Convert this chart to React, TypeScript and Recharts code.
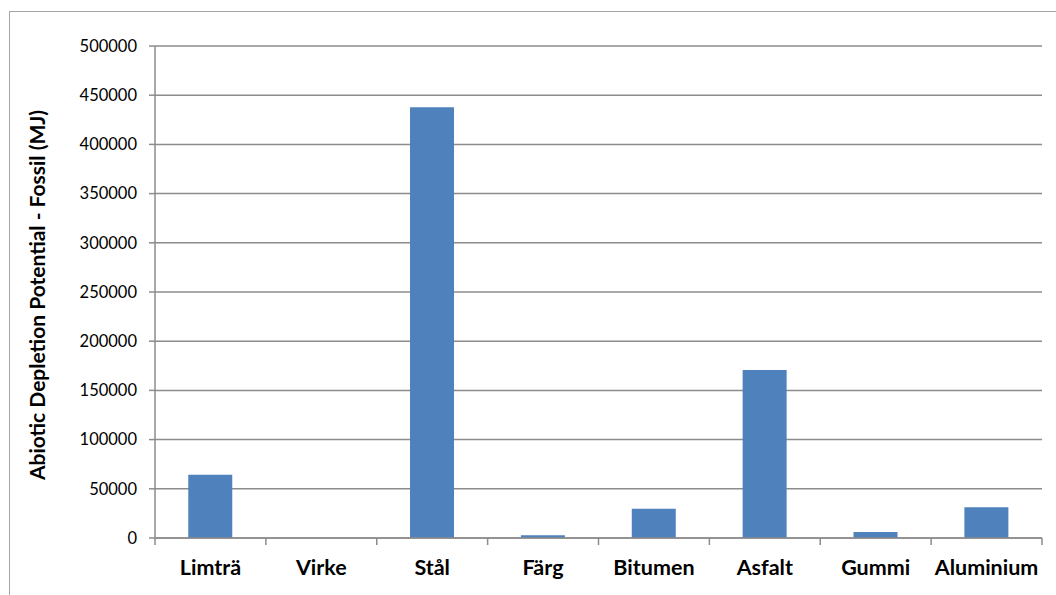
import { BarChart, Bar, XAxis, YAxis, CartesianGrid, Label } from "recharts";

const materials = ["Limträ", "Virke", "Stål", "Färg", "Bitumen", "Asfalt", "Gummi", "Aluminium"];
const fossilMJ = [64300, 0, 437700, 2700, 29800, 170700, 6100, 31200];
const yTicks = [0, 50000, 100000, 150000, 200000, 250000, 300000, 350000, 400000, 450000, 500000];

const data = materials.map((name, i) => ({ name, value: fossilMJ[i] }));

const FONT = "Lato, 'Open Sans', sans-serif";
const GRID = "#8c8c8c";
const LABEL_GAP = 20;

// category label plus the divider ticks that sit between the bars
function MaterialTick(props: any) {
  const { x, y, payload, index } = props;
  const axisY = y - LABEL_GAP;
  const half = payload.offset ?? 0;
  const last = index === materials.length - 1;
  return (
    <g>
      <line x1={x - half} x2={x - half} y1={axisY} y2={axisY + 7} stroke={GRID} strokeWidth={1.5} />
      {last && (
        <line x1={x + half} x2={x + half} y1={axisY} y2={axisY + 7} stroke={GRID} strokeWidth={1.5} />
      )}
      <text
        x={x}
        y={y}
        dy={17}
        textAnchor="middle"
        fill="#000"
        fontFamily={FONT}
        fontWeight={700}
        fontSize={21.5}
      >
        {payload.value}
      </text>
    </g>
  );
}

export default function App() {
  return (
    <div
      style={{
        position: "fixed",
        left: 0,
        top: 0,
        width: 1056,
        height: 595,
        overflow: "hidden",
        background: "#fff",
      }}
    >
      <div
        style={{
          position: "absolute",
          left: 9,
          top: 11,
          width: 1100,
          height: 700,
          borderLeft: "1.5px solid #a6a6a6",
          borderTop: "1.5px solid #a6a6a6",
        }}
      />
      <div style={{ position: "absolute", left: 0, top: 0 }}>
        <BarChart
          width={1056}
          height={595}
          data={data}
          margin={{ top: 46, right: 14, left: 0, bottom: 0 }}
          barCategoryGap="30%"
        >
          <CartesianGrid horizontal vertical={false} stroke={GRID} strokeWidth={1.5} />
          <XAxis
            dataKey="name"
            height={57}
            axisLine={{ stroke: GRID, strokeWidth: 1.5 }}
            tickLine={false}
            tickSize={0}
            tickMargin={LABEL_GAP}
            interval={0}
            tick={<MaterialTick />}
          />
          <YAxis
            width={155}
            domain={[0, 500000]}
            ticks={yTicks}
            interval={0}
            axisLine={{ stroke: GRID, strokeWidth: 1.5 }}
            tickLine={{ stroke: GRID, strokeWidth: 1.5 }}
            tickSize={6}
            tickMargin={12}
            tick={{ fill: "#000", fontFamily: FONT, fontSize: 16.5 }}
          >
            <Label
              content={({ viewBox }: any) => {
                const cy = viewBox.y + viewBox.height / 2 + 3;
                const cx = 45;
                return (
                  <text
                    x={cx}
                    y={cy}
                    transform={`rotate(-90 ${cx} ${cy})`}
                    textAnchor="middle"
                    fill="#000"
                    fontFamily={FONT}
                    fontWeight={700}
                    fontSize={21}
                  >
                    Abiotic Depletion Potential - Fossil (MJ)
                  </text>
                );
              }}
            />
          </YAxis>
          <Bar dataKey="value" fill="#4f81bd" isAnimationActive={false} />
        </BarChart>
      </div>
    </div>
  );
}
